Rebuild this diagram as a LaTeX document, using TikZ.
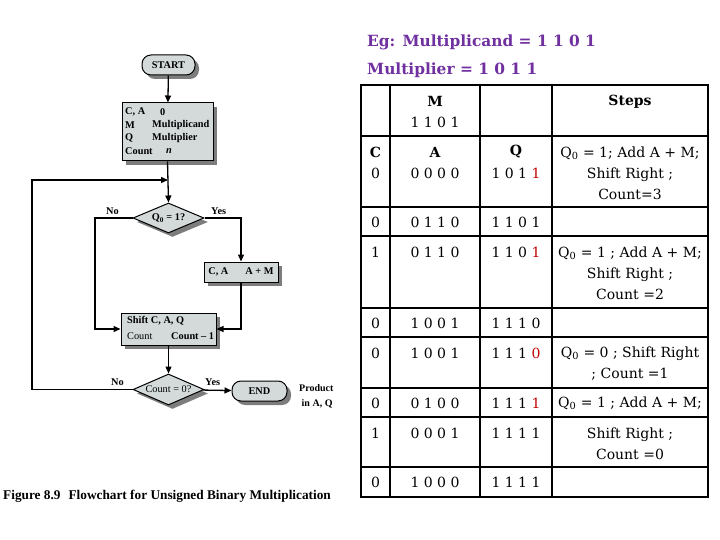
\documentclass[tikz,border=0pt]{standalone}
\usepackage{fontspec}
\setmainfont{Liberation Serif}
\newfontfamily\tabfam{DejaVu Serif}
\usetikzlibrary{arrows.meta,shapes.geometric,shadows}
\definecolor{boxfill}{RGB}{212,218,218}
\definecolor{shadowc}{RGB}{125,125,125}
\definecolor{egpurple}{RGB}{112,48,160}
\definecolor{qred}{RGB}{192,0,0}
\newcommand{\fcfont}{\fontsize{10.3}{12}\selectfont\bfseries}
\newcommand{\fcreg}{\fontsize{10.3}{12}\selectfont}
\newcommand{\tabfont}{\tabfam\fontsize{14}{21}\selectfont}
\newcommand{\rd}[1]{\textcolor{qred}{#1}}
\begin{document}
\begin{tikzpicture}[x=1pt,y=-1pt,
  fc/.style={draw=black, line width=1pt, fill=boxfill,
    drop shadow={shadow xshift=4pt,shadow yshift=-4pt,fill=shadowc,opacity=1},
    font=\fcfont, inner sep=0pt},
  fcbox/.style={fc, rectangle},
  term/.style={fc, rectangle, rounded corners=9pt},
  dec/.style={fc, diamond, aspect=2.3},
  fctext/.style={font=\fcfont, inner sep=0pt, anchor=west},
  arr/.style={line width=1.3pt, -{Triangle[length=7pt,width=6pt]}},
  cell/.style={font=\tabfont, inner sep=0pt, anchor=center, align=center},
  grid/.style={line width=1.6pt}
]
\useasboundingbox (0,0) rectangle (720,540);

% ---------------- flowchart ----------------
\node[term, minimum width=53pt, minimum height=20pt] (start) at (168.5,65) {START};
\node[fcbox, minimum width=91pt, minimum height=58pt] (init) at (167.5,132) {};
\node[fctext] (i1) at (125,112) {C, A};
\node[fctext] (i2) at (125,125) {M};
\node[fctext] (i3) at (125,138) {Q};
\node[fctext] (i4) at (125,151) {Count};
\node[fctext] (v1) at (160,112) {0};
\node[fctext] (v2) at (152,125) {Multiplicand};
\node[fctext] (v3) at (152,138) {Multiplier};
\node[fctext] (v4) at (166,151) {\itshape n};

\coordinate (j) at (168,180);
\coordinate (left) at (32,180);
\node[dec, minimum width=71pt, minimum height=30pt] (d1) at (168.5,218) {Q\textsubscript{0} = 1?};
\node[fcbox, minimum width=74pt, minimum height=20pt] (ca) at (241,272) {C, A\hspace{17pt}A + M};
\node[fcbox, minimum width=95pt, minimum height=32pt] (shift) at (168.5,329) {};
\node[fctext] (s1) at (127,321) {Shift C, A, Q};
\node[fctext, font=\fcreg] (s2) at (127,336) {Count};
\node[fctext] (s3) at (171,336) {Count -- 1};
\node[dec, minimum width=71pt, minimum height=31pt, font=\fcreg] (d2) at (168.5,389.5) {Count = 0?};
\node[term, minimum width=55pt, minimum height=20pt] (end) at (259.5,391) {END};
\node[fctext, align=left, font=\fontsize{10}{15}\selectfont\bfseries] (prod) at (299,396) {Product\\\ in A, Q};

\coordinate (nob) at (95,329);

\draw[arr] (start) -- (init);
\draw[arr] (init.south) -- (d1.north);
\draw[arr] (d2.west) -| (left) -- (j);
\draw[arr] (d1.west) -| (nob) -- (shift.west);
\draw[arr] (d1.east) -| (ca.north);
\draw[arr] (ca.south) |- (shift.east);
\draw[arr] (shift) -- (d2);
\draw[arr] (d2) -- (end);

\node[fctext] (no1) at (106,211) {No};
\node[fctext] (yes1) at (211,211) {Yes};
\node[fctext] (no2) at (111,382) {No};
\node[fctext] (yes2) at (205,382) {Yes};

\node[anchor=west, inner sep=0pt, font=\fontsize{13.3}{15}\selectfont\bfseries] (cap) at (3,496)
  {Figure 8.9\hspace{0.6em}Flowchart for Unsigned Binary Multiplication};

% ---------------- title ----------------
\node[anchor=west, inner sep=0pt, text=egpurple, font=\tabfam\fontsize{15.4}{20}\selectfont\bfseries] (t1) at (367,42) {Eg: Multiplicand = 1 1 0 1};
\node[anchor=west, inner sep=0pt, text=egpurple, font=\tabfam\fontsize{15.4}{20}\selectfont\bfseries] (t2) at (367,70) {Multiplier = 1 0 1 1};

% ---------------- table grid ----------------
\draw[grid] (361,85) rectangle (708,497);
\foreach \yy in {136,207,236,308,337,388,417,467}
  \draw[grid] (361,\yy) -- (708,\yy);
\draw[grid] (390,85) -- (390,497);
\draw[grid] (480,85) -- (480,497);
\draw[grid] (552,85) -- (552,497);

% header
\node[cell, font=\tabfont\bfseries] (hM) at (435,101) {M};
\node[cell] (hMv) at (435,122) {1 1 0 1};
\node[cell, font=\tabfont\bfseries] (hS) at (630,102) {Steps};
% row 2
\node[cell, font=\tabfont\bfseries] (hC) at (375.5,152) {C};
\node[cell] (r2c) at (375.5,173) {0};
\node[cell, font=\tabfont\bfseries] (hA) at (435,152) {A};
\node[cell] (r2a) at (435,173) {0 0 0 0};
\node[cell, font=\tabfont\bfseries] (hQ) at (516,152) {Q};
\node[cell] (r2q) at (516,173) {1 0 1 \rd{1}};
\node[cell] (r2s) at (630,173) {Q\textsubscript{0} = 1; Add A + M;\\Shift Right ;\\Count=3};
% row 3
\node[cell] (r3c) at (375.5,222) {0};
\node[cell] (r3a) at (435,222) {0 1 1 0};
\node[cell] (r3q) at (516,222) {1 1 0 1};
% row 4
\node[cell] (r4c) at (375.5,252) {1};
\node[cell] (r4a) at (435,252) {0 1 1 0};
\node[cell] (r4q) at (516,252) {1 1 0 \rd{1}};
\node[cell] (r4s) at (630,273) {Q\textsubscript{0} = 1 ; Add A + M;\\Shift Right ;\\Count =2};
% row 5
\node[cell] (r5c) at (375.5,323) {0};
\node[cell] (r5a) at (435,323) {1 0 0 1};
\node[cell] (r5q) at (516,323) {1 1 1 0};
% row 6
\node[cell] (r6c) at (375.5,353) {0};
\node[cell] (r6a) at (435,353) {1 0 0 1};
\node[cell] (r6q) at (516,353) {1 1 1 \rd{0}};
\node[cell] (r6s) at (630,363.5) {Q\textsubscript{0} = 0 ; Shift Right\\; Count =1};
% row 7
\node[cell] (r7c) at (375.5,403) {0};
\node[cell] (r7a) at (435,403) {0 1 0 0};
\node[cell] (r7q) at (516,403) {1 1 1 \rd{1}};
\node[cell] (r7s) at (630,403) {Q\textsubscript{0} = 1 ; Add A + M;};
% row 8
\node[cell] (r8c) at (375.5,433) {1};
\node[cell] (r8a) at (435,433) {0 0 0 1};
\node[cell] (r8q) at (516,433) {1 1 1 1};
\node[cell] (r8s) at (630,443.5) {Shift Right ;\\Count =0};
% row 9
\node[cell] (r9c) at (375.5,482) {0};
\node[cell] (r9a) at (435,482) {1 0 0 0};
\node[cell] (r9q) at (516,482) {1 1 1 1};
\end{tikzpicture}
\end{document}
